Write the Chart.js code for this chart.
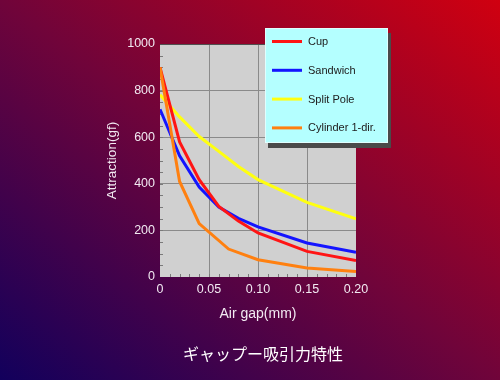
<!DOCTYPE html>
<html>
<head>
<meta charset="utf-8">
<script src="https://cdn.jsdelivr.net/npm/chart.js@4"></script>
<style>
    html, body { margin: 0; padding: 0; }
    body {
        width: 500px;
        height: 380px;
        overflow: hidden;
        background: linear-gradient(to top right, #12005c 0%, #70043a 50%, #d00010 100%);
    }
    #wrap { position: relative; width: 500px; height: 380px; }
    #caption {
        position: absolute;
        left: 163px;
        width: 200px;
        top: 343px;
        text-align: center;
        color: #ffffff;
        font-family: 'Noto Sans CJK JP', sans-serif;
        font-size: 16px;
        line-height: 20px;
    }
</style>
</head>
<body>
<div id="wrap">
    <canvas id="gapChart"></canvas>
    <div id="caption">ギャップー吸引力特性</div>
</div>
<script>
// Gap (mm) vs attraction (gf)
const seriesNames = ['Cup', 'Sandwich', 'Split Pole', 'Cylinder 1-dir.'];

const gapCup = [0, 0.02, 0.04, 0.06, 0.08, 0.10, 0.15, 0.20];
const cupValues = [900, 580, 418, 303, 240, 189, 110, 71];

const gapSandwich = [0, 0.02, 0.04, 0.06, 0.08, 0.10, 0.15, 0.20];
const sandwichValues = [720, 520, 386, 300, 252, 215, 146, 106];

const gapSplitPole = [0, 0.02, 0.04, 0.06, 0.08, 0.10, 0.15, 0.20];
const splitPoleValues = [782, 687, 603, 539, 474, 418, 320, 250];

const gapCylinder = [0, 0.02, 0.04, 0.07, 0.10, 0.15, 0.20];
const cylinderValues = [900, 410, 229, 120, 74, 39, 24];

const xTickValues = [0, 0.05, 0.10, 0.15, 0.20];
const xTickLabels = ['0', '0.05', '0.10', '0.15', '0.20'];
const yTickValues = [0, 200, 400, 600, 800, 1000];
const yTickLabels = ['0', '200', '400', '600', '800', '1000'];

const colors = {
    cup: '#ff1414',
    sandwich: '#1414ff',
    splitPole: '#ffff10',
    cylinder: '#ff8010',
    plotBg: '#d0d0d0',
    grid: '#8a8a8a',
    text: '#f2eaf2'
};

const FONT = "'Liberation Sans', Arial, sans-serif";

function toPoints(xs, ys) {
    return xs.map((x, i) => ({ x: x, y: ys[i] }));
}

// grey plot background + minor ticks inside the plot frame
const plotFrame = {
    id: 'plotFrame',
    beforeDraw(chart) {
        const { ctx, chartArea: a } = chart;
        ctx.save();
        ctx.fillStyle = colors.plotBg;
        ctx.fillRect(a.left, a.top, a.right - a.left, a.bottom - a.top);
        ctx.restore();
    },
    beforeDatasetsDraw(chart) {
        const { ctx, chartArea: a, scales } = chart;
        ctx.save();
        ctx.strokeStyle = '#7a7a7a';
        ctx.lineWidth = 1;
        ctx.beginPath();
        for (let v = 0.01; v < 0.2; v += 0.01) {
            const px = Math.round(scales.x.getPixelForValue(v)) + 0.5;
            ctx.moveTo(px, a.bottom);
            ctx.lineTo(px, a.bottom - 3);
        }
        for (let v = 50; v < 1000; v += 50) {
            const py = Math.round(scales.y.getPixelForValue(v)) + 0.5;
            ctx.moveTo(a.left, py);
            ctx.lineTo(a.left + 3, py);
        }
        ctx.stroke();
        // darker top edge of the plot
        ctx.strokeStyle = '#505050';
        ctx.beginPath();
        ctx.moveTo(a.left, a.top + 0.5);
        ctx.lineTo(a.right, a.top + 0.5);
        ctx.stroke();
        ctx.restore();
    }
};

// boxed legend with a drop shadow, sitting over the top right of the plot
const boxLegend = {
    id: 'boxLegend',
    afterDraw(chart) {
        const { ctx } = chart;
        const box = { x: 265, y: 28, w: 123, h: 115 };
        ctx.save();
        ctx.fillStyle = '#4a4a4a';
        ctx.fillRect(box.x + 3, box.y + 5, box.w, box.h);
        ctx.fillStyle = '#b4ffff';
        ctx.fillRect(box.x, box.y, box.w, box.h);
        ctx.strokeStyle = '#e0ffff';
        ctx.lineWidth = 1;
        ctx.strokeRect(box.x + 0.5, box.y + 0.5, box.w - 1, box.h - 1);

        ctx.font = '11px ' + FONT;
        ctx.textBaseline = 'middle';
        ctx.textAlign = 'left';
        chart.data.datasets.forEach((ds, i) => {
            const y = box.y + 13.5 + i * 28.8;
            ctx.strokeStyle = ds.borderColor;
            ctx.lineWidth = 3;
            ctx.beginPath();
            ctx.moveTo(box.x + 7, y);
            ctx.lineTo(box.x + 37, y);
            ctx.stroke();
            ctx.fillStyle = '#202020';
            ctx.fillText(ds.label, box.x + 43, y + 0.5);
        });
        ctx.restore();
    }
};

function lineSet(label, xs, ys, color, order) {
    return {
        label: label,
        data: toPoints(xs, ys),
        borderColor: color,
        backgroundColor: color,
        borderWidth: 3,
        pointRadius: 0,
        tension: 0,
        order: order
    };
}

new Chart(document.getElementById('gapChart'), {
    type: 'line',
    data: {
        datasets: [
            lineSet(seriesNames[0], gapCup, cupValues, colors.cup, 2),
            lineSet(seriesNames[1], gapSandwich, sandwichValues, colors.sandwich, 3),
            lineSet(seriesNames[2], gapSplitPole, splitPoleValues, colors.splitPole, 4),
            lineSet(seriesNames[3], gapCylinder, cylinderValues, colors.cylinder, 1)
        ]
    },
    plugins: [plotFrame, boxLegend],
    options: {
        responsive: true,
        maintainAspectRatio: false,
        animation: false,
        layout: { padding: { left: 100, right: 144, top: 44, bottom: 36.4 } },
        plugins: {
            legend: { display: false },
            tooltip: { enabled: false }
        },
        scales: {
            x: {
                type: 'linear',
                min: 0,
                max: 0.2,
                afterFit: s => { s.height = 66.6; },
                afterBuildTicks: s => { s.ticks = xTickValues.map(v => ({ value: v })); },
                border: { display: false },
                grid: {
                    drawTicks: false,
                    color: c => (c.tick && (c.tick.value === 0 || c.tick.value >= 0.2)) ? 'rgba(0,0,0,0)' : colors.grid
                },
                ticks: {
                    padding: 5,
                    maxRotation: 0,
                    autoSkip: false,
                    color: colors.text,
                    font: { family: FONT, size: 12.5 },
                    callback: (v, i) => xTickLabels[i]
                },
                title: {
                    display: true,
                    text: 'Air gap(mm)',
                    color: colors.text,
                    font: { family: FONT, size: 14 },
                    padding: { top: 0, bottom: 21 }
                }
            },
            y: {
                min: 0,
                max: 1000,
                afterFit: s => { s.width = 60; },
                afterBuildTicks: s => { s.ticks = yTickValues.map(v => ({ value: v })); },
                border: { display: false },
                grid: {
                    drawTicks: false,
                    color: c => (c.tick && c.tick.value === 0) ? 'rgba(0,0,0,0)' : colors.grid
                },
                ticks: {
                    padding: 5,
                    color: colors.text,
                    font: { family: FONT, size: 12.5 },
                    callback: (v, i) => yTickLabels[i]
                },
                title: {
                    display: true,
                    text: 'Attraction(gf)',
                    color: colors.text,
                    font: { family: FONT, size: 13.5 },
                    padding: { top: 4, bottom: 4 }
                }
            }
        }
    }
});
</script>
</body>
</html>
